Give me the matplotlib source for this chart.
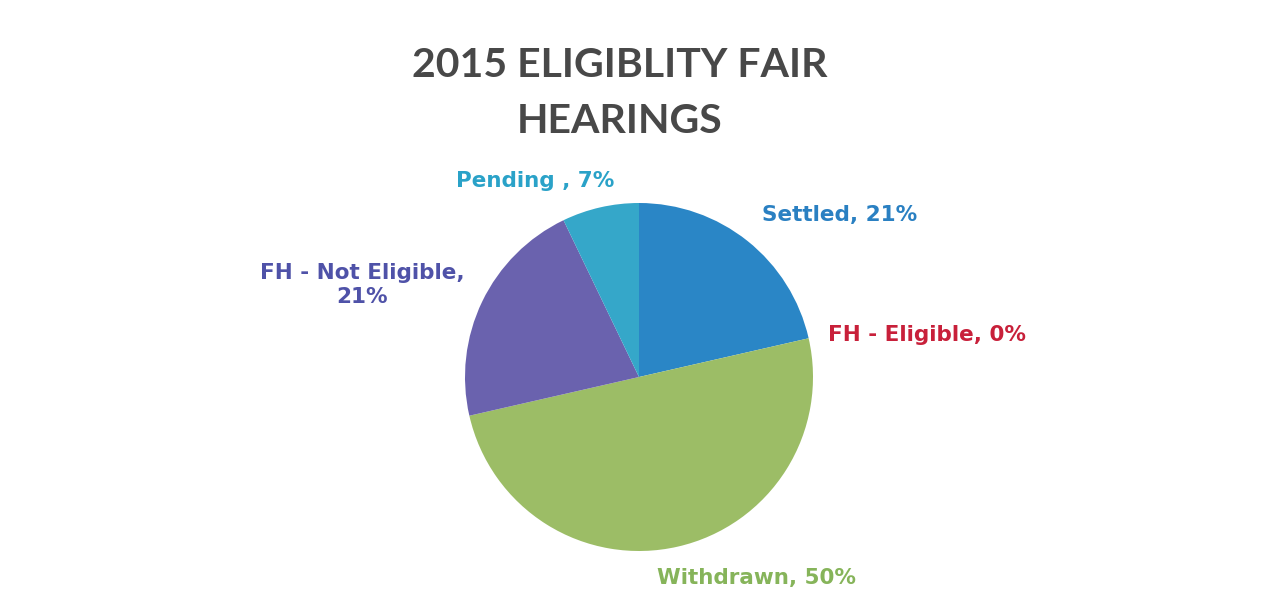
import matplotlib.pyplot as plt

# data (counts giving 21/0/50/21/7 %)
labels = ["Settled", "FH - Eligible", "Withdrawn", "FH - Not Eligible", "Pending "]
counts = [3, 0, 7, 3, 1]
wedge_colors = ["#2a86c6", "#c8203a", "#9cbd66", "#6a62ae", "#35a7c9"]
text_colors = ["#2a80c2", "#c8203a", "#86b45a", "#4f52a8", "#2aa2c8"]
title_lines = ["2015 ELIGIBLITY FAIR", "HEARINGS"]

# where each label sits (pixel coords, y from bottom)
label_pos = [(840, 394), (927, 274), (756, 31), (362, 324), (535, 428)]

fig = plt.figure(figsize=(12.69, 6.09), dpi=100)
ax = fig.add_axes([0, 0, 1, 1])

ax.pie(counts, colors=wedge_colors, startangle=90, counterclock=False,
       center=(639, 232), radius=174, frame=True,
       wedgeprops=dict(linewidth=0))
ax.set_xlim(0, 1269)
ax.set_ylim(0, 609)
ax.set_aspect("equal")
ax.axis("off")

total = sum(counts)
for i in range(len(labels)):
    pct = round(100 * counts[i] / total)
    if labels[i] == "FH - Not Eligible":
        txt = "{0},\n{1}%".format(labels[i], pct)
    else:
        txt = "{0}, {1}%".format(labels[i], pct)
    ax.text(label_pos[i][0], label_pos[i][1], txt, color=text_colors[i],
            fontsize=15.5, fontweight="bold", ha="center", va="center",
            linespacing=1.25)

# title, two lines placed on their baselines
ax.text(620, 532, title_lines[0], color="#484848", family="Lato",
        fontsize=29.5, fontweight="bold", ha="center", va="baseline")
ax.text(620, 476, title_lines[1], color="#484848", family="Lato",
        fontsize=29.5, fontweight="bold", ha="center", va="baseline")

fig.savefig("out.png", dpi=100, facecolor="white")
